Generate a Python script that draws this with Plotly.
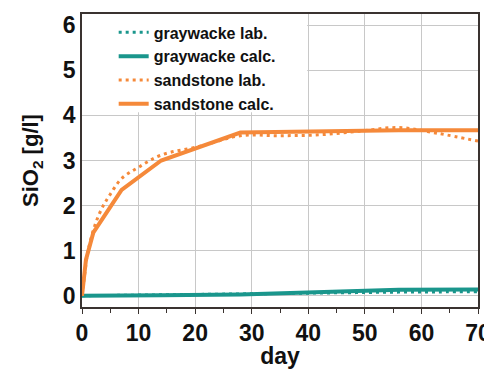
import plotly.graph_objects as go

# Data
gw_lab_day = [0, 7, 14, 21, 28, 35, 42, 49, 56, 63, 70]
gw_lab_sio2 = [0.0, 0.01, 0.02, 0.03, 0.04, 0.05, 0.06, 0.07, 0.08, 0.085, 0.09]
gw_calc_day = [0, 7, 14, 28, 42, 56, 70]
gw_calc_sio2 = [0.0, 0.0, 0.01, 0.03, 0.08, 0.13, 0.14]
ss_lab_day = [0, 0.5, 1, 2, 3, 4, 5, 7, 10, 14, 21, 28, 35, 42, 49, 56, 63, 70]
ss_lab_sio2 = [0.0, 0.5, 0.95, 1.45, 1.8, 2.05, 2.25, 2.6, 2.85, 3.12, 3.32, 3.55, 3.55, 3.57, 3.65, 3.73, 3.6, 3.43]
ss_calc_day = [0, 0.7, 2, 7, 14, 21, 28, 56, 70]
ss_calc_sio2 = [0.0, 0.8, 1.4, 2.35, 3.0, 3.32, 3.62, 3.67, 3.67]

teal = "#1a968c"
orange = "#f5893a"
font_family = "Liberation Sans, Arial, sans-serif"

fig = go.Figure()
fig.add_trace(go.Scatter(x=gw_lab_day, y=gw_lab_sio2, mode="lines", name="<b>graywacke lab.</b>",
                         line=dict(color=teal, width=3, dash="3px,4px", shape="spline")))
fig.add_trace(go.Scatter(x=gw_calc_day, y=gw_calc_sio2, mode="lines", name="<b>graywacke calc.</b>",
                         line=dict(color=teal, width=4)))
fig.add_trace(go.Scatter(x=ss_lab_day, y=ss_lab_sio2, mode="lines", name="<b>sandstone lab.</b>",
                         line=dict(color=orange, width=3, dash="3px,4px", shape="spline")))
fig.add_trace(go.Scatter(x=ss_calc_day, y=ss_calc_sio2, mode="lines", name="<b>sandstone calc.</b>",
                         line=dict(color=orange, width=4)))

fig.add_shape(type="rect", xref="x", yref="y", x0=0, x1=39.8, y0=4.07, y1=6.25,
              fillcolor="white", line=dict(width=0), layer="between")

axis_common = dict(showline=True, linecolor="#3a3330", linewidth=1.5, mirror=True,
                   showgrid=True, gridcolor="#c8c8c8", gridwidth=1, zeroline=False,
                   automargin=False, ticklabeloverflow="allow",
                   tickfont=dict(family=font_family, size=23, color="#111"))

fig.update_xaxes(range=[0, 70], dtick=10, tick0=0, ticks="outside", ticklen=5, tickcolor="#3a3330",
                 minor=dict(dtick=5, ticks="outside", ticklen=4, tickcolor="#3a3330", showgrid=False),
                 title=dict(text="<b>day</b>", font=dict(family=font_family, size=23, color="#111"), standoff=7),
                 tickprefix="<b>", ticksuffix="</b>", **axis_common)
fig.update_yaxes(range=[-0.25, 6.25], dtick=1, tick0=0, ticks="",
                 title=dict(text="<b>SiO<sub>2</sub> [g/l]</b>", font=dict(family=font_family, size=22, color="#111"), standoff=18),
                 tickprefix="<b>", ticksuffix="</b>", **axis_common)

fig.update_layout(
    width=484, height=369,
    margin=dict(l=82, r=6, t=14, b=62),
    plot_bgcolor="white", paper_bgcolor="white",
    showlegend=True,
    legend=dict(x=0.08, y=0.995, xanchor="left", yanchor="top", bgcolor="rgba(0,0,0,0)",
                font=dict(family=font_family, size=16, color="#111"),
                tracegroupgap=0, itemwidth=30),
)

fig.write_html("out.html", config={"displayModeBar": False},
               post_script="document.body.style.margin='0';document.body.style.overflow='hidden';")
